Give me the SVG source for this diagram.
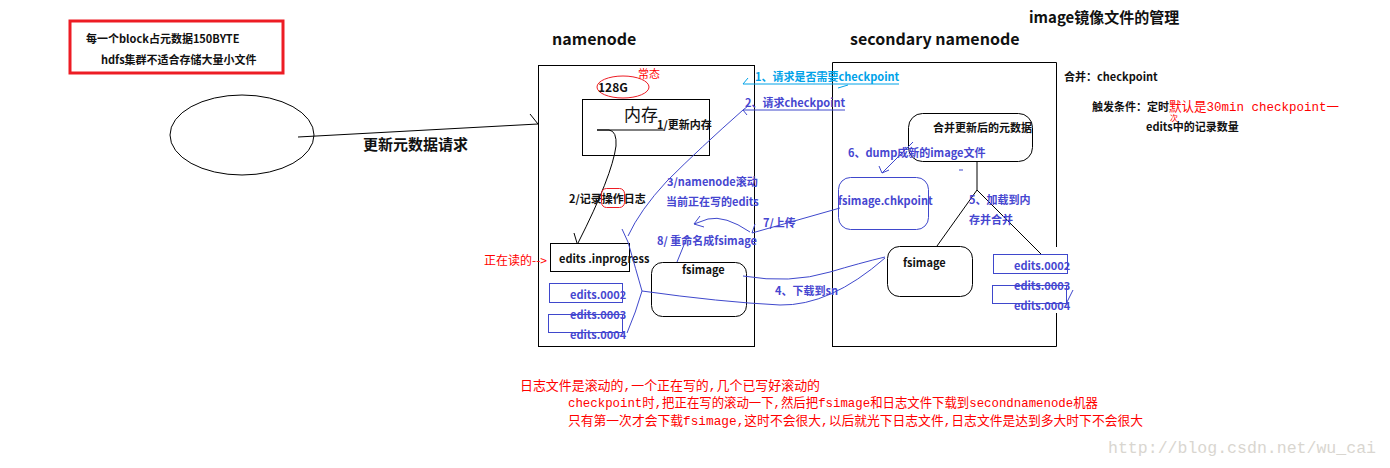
<svg xmlns="http://www.w3.org/2000/svg" width="1390" height="468" viewBox="0 0 1390 468">
<defs>
<style>
.b{font-family:"Noto Sans CJK SC","Noto Sans",sans-serif;font-weight:bold;font-size:11px;fill:#111}
.bl{font-family:"Noto Sans CJK SC","Noto Sans",sans-serif;font-weight:bold;font-size:11px;fill:#4646d0}
.cy{font-family:"Noto Sans CJK SC","Noto Sans",sans-serif;font-weight:bold;font-size:11px;fill:#00a2e8}
.t{font-family:"Noto Sans CJK SC","Noto Sans",sans-serif;font-weight:bold;font-size:16px;fill:#111}
.rm{font-family:"Liberation Mono","Noto Sans CJK SC",monospace;font-size:13px;fill:#ff0000}
.k{fill:none;stroke:#000;stroke-width:1}
.bx{fill:none;stroke:#3f48cc;stroke-width:1}
.bln{fill:none;stroke:#3f48cc;stroke-width:1}
.rd{fill:none;stroke:#ed1c24;stroke-width:1}
</style>
</defs>
<rect width="1390" height="468" fill="#fff"/>

<g id="note-box">
<rect x="70" y="21" width="213" height="52" fill="none" stroke="#ed1c24" stroke-width="3"/>
<text class="b" x="86" y="43">每一个block占元数据150BYTE</text>
<text class="b" x="101" y="64">hdfs集群不适合存储大量小文件</text>
</g>

<g id="client">
<ellipse cx="242" cy="135" rx="72" ry="40" class="k"/>
</g>

<g id="titles">
<text class="t" x="552" y="45">namenode</text>
<text class="t" x="850" y="45">secondary namenode</text>
<text class="t" x="1029" y="23" style="font-size:15px">image镜像文件的管理</text>
</g>

<g id="namenode">
<rect x="538.5" y="65.5" width="216" height="281" class="k"/>
<ellipse cx="623" cy="87" rx="26" ry="11" class="rd"/>
<text class="b" x="598" y="92" style="font-size:12px">128G</text>
<text x="638" y="78" style="font-family:'Noto Sans CJK SC',sans-serif;font-size:11px;fill:#ff0000">常态</text>
</g>

<g id="memory">
<rect x="582.5" y="99.5" width="127" height="56" class="k"/>
<text x="624" y="121" style="font-family:'Noto Sans CJK SC',sans-serif;font-size:17px;fill:#111">内存</text>
<text class="b" x="657" y="129">1/更新内存</text>
</g>

<g id="edits-inprogress">
<rect x="550.5" y="243.5" width="79" height="28" class="k"/>
<text class="b" x="559" y="263">edits .inprogress</text>
<text x="484" y="265" style="font-family:'Noto Sans CJK SC',sans-serif;font-size:12px;fill:#ff0000">正在读的--&gt;</text>
</g>

<g id="nn-edits">
<rect x="549.5" y="283.5" width="73" height="19" class="bx"/>
<rect x="548.5" y="314.5" width="74" height="18" class="bx"/>
<text class="bl" x="570" y="299">edits.0002</text>
<text class="bl" x="570" y="319">edits.0003</text>
<text class="bl" x="570" y="339">edits.0004</text>
</g>

<g id="nn-fsimage">
<rect x="651.5" y="262.5" width="95" height="54" rx="11" class="k"/>
<text class="b" x="682" y="274">fsimage</text>
</g>

<g id="secondary">
<path d="M832.5,347 V62.5 H1056.5 V247 M1056.5,313 V346.5 H832.5" class="k"/>
<text class="b" x="1064" y="81">合并：checkpoint</text>
<text class="b" x="1092" y="111">触发条件：定时</text>
<text class="rm" x="1169" y="111" textLength="170" lengthAdjust="spacingAndGlyphs">默认是30min  checkpoint一</text>
<text class="rm" x="1170" y="120.5" style="font-size:8px">次</text>
<text class="b" x="1146" y="131">edits中的记录数量</text>
</g>

<g id="merged">
<rect x="908.5" y="113.5" width="124" height="48" rx="14" class="k"/>
<text class="b" x="933" y="132">合并更新后的元数据</text>
</g>

<g id="fsimage-chkpoint">
<rect x="838.5" y="177.5" width="90" height="52" rx="12" class="bx"/>
<text class="bl" x="838" y="205">fsimage.chkpoint</text>
</g>

<g id="sn-fsimage">
<rect x="887.5" y="246.5" width="85" height="50" rx="12" class="k"/>
<text class="b" x="903" y="267">fsimage</text>
</g>

<g id="sn-edits">
<rect x="993.5" y="254.5" width="74" height="19" class="bx"/>
<rect x="992.5" y="285.5" width="74" height="18" class="bx"/>
<text class="bl" x="1014" y="270">edits.0002</text>
<text class="bl" x="1014" y="290">edits.0003</text>
<text class="bl" x="1014" y="310">edits.0004</text>
<path d="M1067,302 L1073,290" class="bln"/>
</g>

<g id="connectors">
<path d="M298,137 L538,124 M530,114 L538,124" class="k"/>
<text x="363" y="150" style="font-family:'Noto Sans CJK SC',sans-serif;font-weight:bold;font-size:15px;fill:#111">更新元数据请求</text>
<path d="M597,130 L664,130" class="k"/>
<path d="M597,130 L609,130 Q617,131 616,146 Q612,176 578,243 M574,233 L577,243" class="k"/>
<text class="b" x="569" y="203">2/记录操作日志</text>
<rect x="601.5" y="188.5" width="23" height="19" rx="5" class="rd"/>
<path d="M743,84 L899,84 M743,84 L748,78 M838,88 L848,85" fill="none" stroke="#00a2e8" stroke-width="1"/>
<text class="cy" x="755" y="81">1、请求是否需要checkpoint</text>
<text class="bl" x="745" y="107">2、请求checkpoint</text>
<path d="M743,110 L845,110 M743,110 L748,106 M743,110 L747,115" class="bln"/>
<path d="M743,110 Q700,148 667,181 Q640,210 628,236 M622,229 L628,242 Q636,270 642,291 Q636,312 627,333" class="bln"/>
<text class="bl" x="667" y="186">3/namenode滚动</text>
<text class="bl" x="666" y="206">当前正在写的edits</text>
<path d="M642,291 Q720,302 780,305 Q830,306 885,258" class="bln"/>
<path d="M743,276 Q790,284 830,272 Q860,263 885,257" class="bln"/>
<text class="bl" x="775" y="295">4、下载到sn</text>
<path d="M977,162 L977,190 L937,246 M977,190 L1041,254" class="k"/>
<text class="bl" x="969" y="204">5、加载到内</text>
<text class="bl" x="969" y="224">存并合并</text>
<path d="M913,142 L882,173 M879,166 L882,173 L889,170" class="bln"/>
<text class="bl" x="848" y="157">6、dump成新的image文件</text>
<path d="M959,170 L963,170" class="bln"/>
<path d="M840,208 L752,233 M752,233 L755,224 M750,232 Q725,215 708,219 L694,224 M694,224 L700,216 M694,224 L704,227" class="bln"/>
<text class="bl" x="763" y="227">7/上传</text>
<path d="M688,235 L677,262" class="bln"/>
<text class="bl" x="657" y="245">8/ 重命名成fsimage</text>
</g>

<g id="notes">
<text class="rm" x="520" y="390" textLength="300" lengthAdjust="spacingAndGlyphs">日志文件是滚动的,一个正在写的,几个已写好滚动的</text>
<text class="rm" x="568" y="407" textLength="530" lengthAdjust="spacingAndGlyphs">checkpoint时,把正在写的滚动一下,然后把fsimage和日志文件下载到secondnamenode机器</text>
<text class="rm" x="568" y="425" textLength="575" lengthAdjust="spacingAndGlyphs">只有第一次才会下载fsimage,这时不会很大,以后就光下日志文件,日志文件是达到多大时下不会很大</text>
<text x="1108" y="453" textLength="268" lengthAdjust="spacingAndGlyphs" style="font-family:'Liberation Mono',monospace;font-size:16px;fill:#d9d6d0">http://blog.csdn.net/wu_cai</text>
</g>
</svg>
